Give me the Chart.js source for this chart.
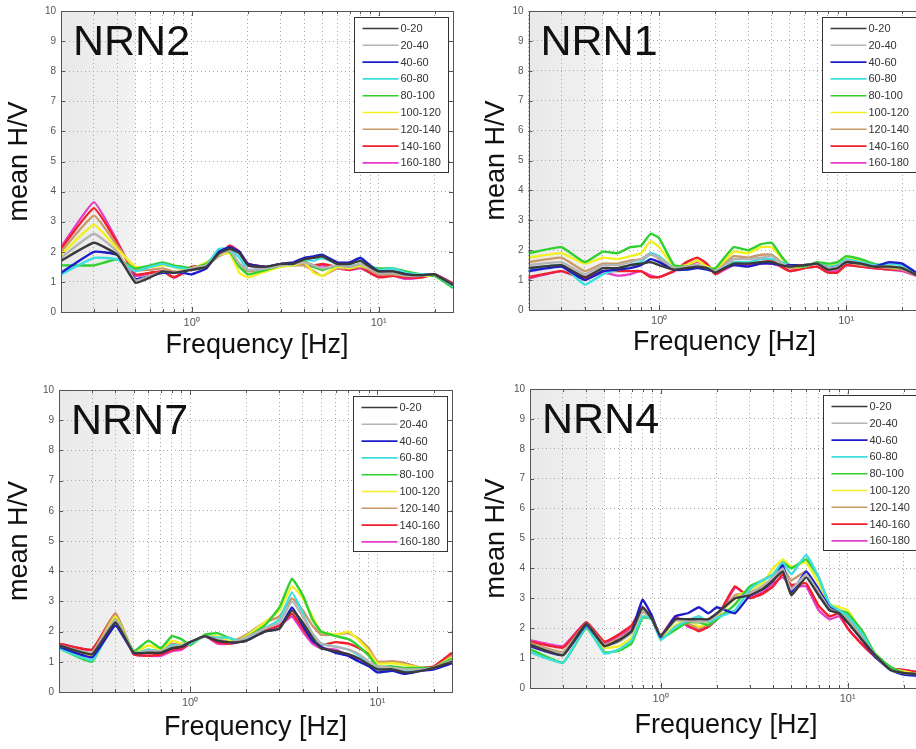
<!DOCTYPE html>
<html><head><meta charset="utf-8">
<script src="https://cdn.jsdelivr.net/npm/chart.js@4.4.0/dist/chart.umd.min.js"></script>
<style>
html,body{margin:0;padding:0;background:#fff;overflow:hidden;width:916px;height:749px;position:relative;}
canvas{position:absolute;display:block;}
</style></head><body>
<canvas id="c1" width="458" height="372" style="left:0px;top:0px"></canvas>
<canvas id="c2" width="470" height="372" style="left:458px;top:0px"></canvas>
<canvas id="c3" width="458" height="375" style="left:0px;top:374px"></canvas>
<canvas id="c4" width="470" height="375" style="left:458px;top:374px"></canvas>
<script>
// ---------- data ----------
const frequencies = [0.2,0.3,0.4,0.5,0.6,0.7,0.8,0.9,1.0,1.2,1.4,1.6,1.8,2.0,2.5,3.0,3.5,4.0,4.5,5.0,6.0,7.0,8.0,9.0,10,12,14,17,20,25];
const seriesLabels = ['0-20','20-40','40-60','60-80','80-100','100-120','120-140','140-160','160-180'];
const seriesColors = ['#3a3a3a','#b4b4b4','#1c1cc8','#3fdede','#2fd02f','#f2f020','#c99a68','#f0202c','#e63cc8'];
const panelNames = ['NRN2','NRN1','NRN7','NRN4'];
const xGridValues = [0.2,0.3,0.4,0.5,0.6,0.7,0.8,0.9,1,2,3,4,5,6,7,8,9,10,20];
const xLabelValues = [1,10];
const xLabelTexts = ['10\u2070','10\u00b9'];
const shadedBand = [0.2,0.5];

const nrn2Values = [
 [1.7,2.3,1.9,0.97,1.15,1.35,1.3,1.35,1.4,1.5,1.95,2.1,1.95,1.55,1.5,1.6,1.6,1.75,1.8,1.85,1.6,1.6,1.7,1.5,1.35,1.35,1.25,1.22,1.25,0.9],
 [1.8,2.6,2.0,1.05,1.2,1.35,1.3,1.35,1.45,1.55,1.9,2.05,1.6,1.4,1.45,1.55,1.6,1.65,1.55,1.45,1.55,1.5,1.6,1.45,1.3,1.3,1.2,1.2,1.25,0.9],
 [1.3,2.0,1.9,1.1,1.2,1.3,1.3,1.3,1.25,1.45,2.0,2.15,2.0,1.6,1.5,1.6,1.65,1.8,1.85,1.9,1.65,1.65,1.8,1.55,1.35,1.35,1.25,1.22,1.25,0.9],
 [1.25,1.8,1.75,1.35,1.5,1.6,1.5,1.45,1.4,1.55,2.1,2.1,1.8,1.4,1.45,1.55,1.6,1.75,1.7,1.8,1.6,1.55,1.8,1.55,1.4,1.45,1.3,1.25,1.25,0.85],
 [1.55,1.55,1.75,1.45,1.55,1.65,1.55,1.5,1.45,1.6,2.0,2.0,1.5,1.25,1.4,1.55,1.6,1.7,1.5,1.4,1.55,1.5,1.6,1.5,1.45,1.45,1.35,1.25,1.2,0.8],
 [1.9,2.9,2.1,1.5,1.5,1.55,1.5,1.4,1.45,1.65,1.9,1.95,1.3,1.15,1.35,1.5,1.55,1.65,1.3,1.2,1.5,1.45,1.55,1.45,1.35,1.35,1.3,1.2,1.2,0.85],
 [2.0,3.2,2.2,1.4,1.4,1.45,1.35,1.35,1.45,1.55,1.85,2.0,1.6,1.35,1.45,1.55,1.55,1.55,1.35,1.2,1.45,1.45,1.5,1.4,1.25,1.25,1.2,1.2,1.2,0.9],
 [2.1,3.45,2.3,1.25,1.3,1.35,1.15,1.3,1.5,1.55,1.9,2.2,2.0,1.6,1.5,1.55,1.6,1.65,1.55,1.6,1.5,1.4,1.5,1.3,1.15,1.2,1.15,1.15,1.25,0.95],
 [2.15,3.65,2.35,1.2,1.3,1.35,1.15,1.3,1.5,1.55,1.9,2.2,2.0,1.55,1.45,1.55,1.55,1.6,1.5,1.55,1.45,1.4,1.45,1.3,1.2,1.2,1.1,1.15,1.25,0.95]
];
const nrn1Values = [
 [1.4,1.5,1.1,1.4,1.4,1.5,1.55,1.6,1.5,1.35,1.4,1.45,1.4,1.25,1.55,1.55,1.6,1.6,1.5,1.45,1.5,1.55,1.35,1.4,1.6,1.55,1.45,1.45,1.4,1.1],
 [1.5,1.6,1.2,1.5,1.5,1.6,1.7,1.85,1.75,1.4,1.45,1.5,1.4,1.3,1.7,1.7,1.75,1.8,1.55,1.45,1.5,1.55,1.4,1.45,1.65,1.55,1.45,1.45,1.4,1.1],
 [1.3,1.45,1.0,1.3,1.35,1.4,1.5,1.7,1.6,1.35,1.35,1.4,1.35,1.3,1.5,1.45,1.55,1.55,1.5,1.5,1.5,1.55,1.4,1.45,1.6,1.55,1.45,1.6,1.55,1.15],
 [1.35,1.5,0.85,1.2,1.35,1.5,1.6,1.9,1.8,1.4,1.4,1.5,1.4,1.3,1.6,1.6,1.7,1.7,1.6,1.5,1.5,1.55,1.45,1.5,1.7,1.6,1.5,1.55,1.5,1.15],
 [1.9,2.1,1.6,1.95,1.9,2.1,2.15,2.55,2.4,1.5,1.45,1.5,1.4,1.4,2.1,2.0,2.2,2.25,1.8,1.5,1.45,1.6,1.55,1.6,1.8,1.7,1.55,1.45,1.4,1.15],
 [1.75,1.9,1.55,1.75,1.7,1.8,1.9,2.3,2.1,1.45,1.5,1.65,1.45,1.35,1.95,1.9,2.1,2.1,1.75,1.45,1.45,1.6,1.5,1.55,1.75,1.65,1.5,1.45,1.4,1.15],
 [1.6,1.75,1.3,1.55,1.55,1.65,1.7,1.9,1.7,1.4,1.5,1.65,1.45,1.3,1.8,1.75,1.85,1.85,1.6,1.4,1.45,1.55,1.35,1.4,1.6,1.5,1.45,1.4,1.35,1.1],
 [1.1,1.3,1.05,1.3,1.3,1.3,1.3,1.1,1.1,1.3,1.6,1.75,1.55,1.2,1.6,1.55,1.6,1.65,1.45,1.3,1.4,1.45,1.25,1.25,1.5,1.45,1.4,1.35,1.35,1.1],
 [1.05,1.3,1.05,1.25,1.15,1.2,1.3,1.15,1.1,1.3,1.5,1.6,1.5,1.2,1.5,1.5,1.55,1.55,1.45,1.3,1.4,1.45,1.3,1.3,1.5,1.45,1.4,1.35,1.3,1.1]
];
const nrn7Values = [
 [1.55,1.25,2.3,1.3,1.3,1.3,1.45,1.5,1.65,1.85,1.7,1.65,1.65,1.7,2.0,2.1,2.7,2.3,1.8,1.45,1.35,1.25,1.1,0.9,0.75,0.75,0.65,0.7,0.8,1.0],
 [1.55,1.3,2.4,1.3,1.35,1.35,1.5,1.55,1.65,1.85,1.75,1.65,1.7,1.8,2.1,2.3,3.0,2.5,1.95,1.6,1.5,1.4,1.25,1.0,0.85,0.8,0.75,0.75,0.8,1.05],
 [1.5,1.15,2.2,1.3,1.3,1.3,1.45,1.5,1.65,1.85,1.7,1.65,1.65,1.7,2.0,2.1,2.8,2.2,1.7,1.5,1.3,1.2,1.0,0.85,0.65,0.7,0.6,0.7,0.75,0.95],
 [1.45,1.05,2.3,1.3,1.4,1.35,1.55,1.55,1.6,1.85,1.8,1.8,1.7,1.75,2.1,2.4,3.3,2.6,1.9,1.6,1.5,1.4,1.2,0.95,0.75,0.75,0.7,0.75,0.75,1.0],
 [1.45,1.0,2.4,1.35,1.7,1.45,1.85,1.75,1.55,1.9,1.95,1.8,1.7,1.8,2.2,2.8,3.75,3.2,2.4,2.0,1.85,1.75,1.5,1.2,0.85,0.85,0.8,0.8,0.8,1.1],
 [1.5,1.2,2.5,1.3,1.55,1.4,1.7,1.6,1.6,1.85,1.85,1.7,1.7,1.85,2.3,2.7,3.5,3.1,2.5,2.0,1.9,2.0,1.7,1.35,0.95,0.95,0.9,0.8,0.8,1.15],
 [1.55,1.3,2.6,1.3,1.4,1.35,1.6,1.55,1.65,1.85,1.75,1.65,1.75,1.9,2.3,2.5,3.1,2.7,2.2,1.9,1.9,1.95,1.75,1.45,1.0,1.0,0.95,0.8,0.8,1.2],
 [1.6,1.4,2.6,1.25,1.2,1.25,1.4,1.45,1.6,1.85,1.65,1.6,1.65,1.8,2.05,2.2,2.6,2.1,1.7,1.55,1.65,1.6,1.45,1.25,1.0,1.0,0.95,0.8,0.85,1.3],
 [1.6,1.4,2.5,1.25,1.2,1.2,1.35,1.4,1.6,1.85,1.6,1.6,1.65,1.8,2.0,2.2,2.5,2.0,1.6,1.45,1.4,1.2,1.1,0.95,0.8,0.8,0.75,0.75,0.8,1.25]
];
const nrn4Values = [
 [1.45,1.1,2.15,1.4,1.6,1.9,2.7,2.3,1.75,2.3,2.3,2.3,2.3,2.5,3.0,3.1,3.3,3.6,3.9,3.1,3.7,3.1,2.6,2.5,2.2,1.6,1.1,0.6,0.5,0.45],
 [1.45,1.15,2.15,1.4,1.55,1.85,2.6,2.3,1.75,2.25,2.25,2.2,2.25,2.45,3.0,3.15,3.4,3.7,4.0,3.3,3.8,3.2,2.65,2.5,2.25,1.65,1.1,0.6,0.5,0.45],
 [1.4,1.1,2.1,1.4,1.6,1.9,2.95,2.4,1.7,2.4,2.5,2.7,2.5,2.7,2.5,3.1,3.3,3.6,4.1,3.2,3.9,3.3,2.7,2.5,2.2,1.6,1.05,0.6,0.45,0.4],
 [1.2,0.85,2.05,1.15,1.3,1.6,2.4,2.3,1.6,2.05,2.25,2.4,2.2,2.35,2.6,3.3,3.6,3.8,4.2,3.8,4.45,3.7,2.8,2.6,2.4,1.8,1.1,0.6,0.45,0.4],
 [1.3,0.85,2.0,1.2,1.25,1.5,2.35,2.3,1.65,1.95,2.2,2.2,2.1,2.3,2.8,3.4,3.6,3.8,4.2,4.0,4.3,3.7,2.8,2.6,2.5,1.9,1.15,0.7,0.5,0.45],
 [1.45,1.1,2.1,1.35,1.4,1.7,2.4,2.3,1.7,2.1,2.3,2.05,2.2,2.4,3.0,3.3,3.5,4.0,4.3,4.05,4.2,3.5,2.8,2.7,2.6,1.85,1.15,0.65,0.55,0.45],
 [1.5,1.2,2.15,1.45,1.65,1.95,2.55,2.3,1.75,2.3,2.15,2.0,2.15,2.4,3.1,3.2,3.4,3.7,4.0,3.6,3.9,3.2,2.6,2.55,2.3,1.7,1.1,0.65,0.55,0.45],
 [1.55,1.35,2.2,1.55,1.8,2.1,2.7,2.3,1.75,2.35,2.1,1.9,2.05,2.35,3.4,3.0,3.15,3.4,3.8,3.45,3.5,2.75,2.4,2.5,2.0,1.45,1.05,0.65,0.6,0.5],
 [1.6,1.4,2.2,1.5,1.75,2.0,2.6,2.3,1.75,2.4,2.05,1.95,2.05,2.3,3.35,3.05,3.2,3.5,3.7,3.4,3.4,2.6,2.3,2.4,2.0,1.45,1.05,0.65,0.6,0.5]
];

// ---------- layout (absolute page pixels) ----------
const FONT = '"Liberation Sans", Arial, Helvetica, sans-serif';
const panels = [
 {id:'c1', cx:0,   cy:0,   cw:458, ch:372, al:61,    at:11,  ar:453,   ab:312, yt:20,  xt:346, values:nrn2Values, name:panelNames[0]},
 {id:'c2', cx:458, cy:0,   cw:470, ch:372, al:528.5, at:11,  ar:920.5, ab:310, yt:497, xt:343, values:nrn1Values, name:panelNames[1]},
 {id:'c3', cx:0,   cy:374, cw:458, ch:375, al:59,    at:390, ar:452,   ab:692, yt:20,  xt:728, values:nrn7Values, name:panelNames[2]},
 {id:'c4', cx:458, cy:374, cw:470, ch:375, al:530,   at:389, ar:922,   ab:688, yt:497, xt:726, values:nrn4Values, name:panelNames[3]}
];

const decor = {
  id:'decor',
  beforeDraw(chart, args, opts){
    const {ctx, chartArea:a, scales:{x}} = chart;
    ctx.save();
    ctx.fillStyle = '#ffffff';
    ctx.fillRect(0,0,chart.width,chart.height);
    const x0 = x.getPixelForValue(shadedBand[0]), x1 = x.getPixelForValue(shadedBand[1]);
    const g = ctx.createLinearGradient(x0, 0, x1, 0);
    g.addColorStop(0, '#e9e9e9');
    g.addColorStop(1, '#f2f2f2');
    ctx.fillStyle = g;
    ctx.fillRect(x0, a.top, x1-x0, a.bottom-a.top);
    ctx.restore();
  },
  afterDraw(chart, args, opts){
    const {ctx, chartArea:a, scales:{x,y}} = chart;
    ctx.save();
    // frame
    ctx.strokeStyle = '#555';
    ctx.lineWidth = 1;
    ctx.strokeRect(Math.round(a.left)+0.5, Math.round(a.top)+0.5, Math.round(a.right-a.left), Math.round(a.bottom-a.top));
    // inward tick marks
    ctx.beginPath();
    for(let v=1; v<10; v++){
      const py = Math.round(y.getPixelForValue(v))+0.5;
      ctx.moveTo(a.left, py); ctx.lineTo(a.left+4, py);
      ctx.moveTo(a.right, py); ctx.lineTo(a.right-4, py);
    }
    xGridValues.forEach(v=>{
      const px = Math.round(x.getPixelForValue(v))+0.5;
      const len = xLabelValues.includes(v) ? 5 : 3;
      ctx.moveTo(px, a.bottom); ctx.lineTo(px, a.bottom-len);
      ctx.moveTo(px, a.top); ctx.lineTo(px, a.top+len);
    });
    ctx.stroke();
    // panel name
    ctx.fillStyle = '#111';
    ctx.font = '43px ' + FONT;
    ctx.textBaseline = 'alphabetic';
    ctx.textAlign = 'left';
    ctx.fillText(opts.name, a.left + 12, a.top + 44);
    // legend box
    const bw = 94, bh = 155;
    const bx = Math.round(a.right - 99) + 0.5, by = Math.round(a.top + 6) + 0.5;
    ctx.fillStyle = '#fff';
    ctx.fillRect(bx, by, bw, bh);
    ctx.strokeStyle = '#333';
    ctx.strokeRect(bx, by, bw, bh);
    ctx.font = '11px ' + FONT;
    ctx.textBaseline = 'middle';
    chart.data.datasets.forEach((ds, i) => {
      const ly = by + 11 + i*16.8;
      ctx.strokeStyle = ds.borderColor;
      ctx.lineWidth = 1.6;
      ctx.beginPath(); ctx.moveTo(bx+8, ly); ctx.lineTo(bx+44, ly); ctx.stroke();
      ctx.fillStyle = '#333';
      ctx.fillText(ds.label, bx+46, ly+0.5);
    });
    ctx.restore();
  }
};

function makeChart(p){
  const lh = 27*1.2;
  new Chart(document.getElementById(p.id), {
    type:'line',
    data:{
      datasets: p.values.map((vals,k)=>({
        label: seriesLabels[k],
        data: vals.map((v,i)=>({x:frequencies[i], y:v})),
        borderColor: seriesColors[k],
        backgroundColor: seriesColors[k],
        borderWidth: 2.4,
        pointRadius: 0,
        tension: 0.12,
        fill: false
      }))
    },
    options:{
      responsive:false, animation:false, devicePixelRatio:1,
      layout:{padding:{left:0, top:p.at-p.cy, right:p.cx+p.cw-p.ar, bottom:0}},
      plugins:{legend:{display:false}, tooltip:{enabled:false}, decor:{name:p.name}},
      scales:{
        x:{
          type:'logarithmic', min:0.2, max:25,
          afterBuildTicks: s => { s.ticks = xGridValues.map(v=>({value:v, major:false})); },
          afterFit: s => { s.height = p.cy + p.ch - p.ab; },
          ticks:{autoSkip:false, maxRotation:0, minRotation:0, padding:4, color:'#555', font:{size:11, family:FONT},
            callback:(v)=>{ const j = xLabelValues.indexOf(v); return j>=0 ? xLabelTexts[j] : ''; }},
          grid:{color:'#a8a8a8', lineWidth:1, drawTicks:false},
          border:{display:false, dash:[1,3]},
          title:{display:true, text:'Frequency [Hz]', color:'#111', font:{size:27, family:FONT},
            padding:{top:0, bottom: p.cy + p.ch - p.xt - lh/2}}
        },
        y:{
          min:0, max:10,
          afterFit: s => { s.width = p.al - p.cx; },
          ticks:{stepSize:1, padding:5, color:'#555', font:{size:10, family:FONT}},
          grid:{color:'#a8a8a8', lineWidth:1, drawTicks:false},
          border:{display:false, dash:[1,3]},
          title:{display:true, text:'mean H/V', color:'#111', font:{size:27, family:FONT},
            padding:{top: p.yt - p.cx - lh/2, bottom:0}}
        }
      }
    },
    plugins:[decor]
  });
}
panels.forEach(makeChart);
</script>
</body></html>
